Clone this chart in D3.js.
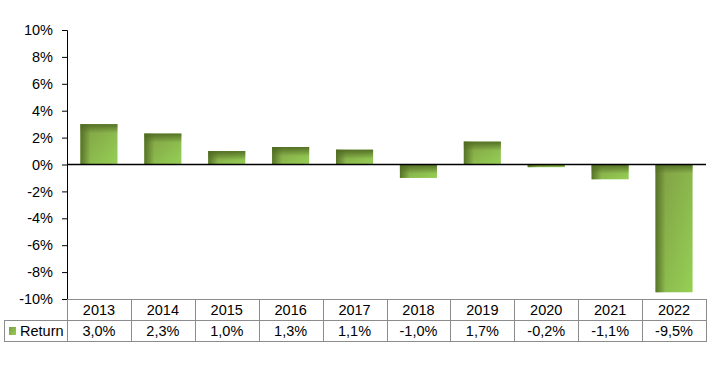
<!DOCTYPE html>
<html>
<head>
<meta charset="utf-8">
<script src="https://cdn.jsdelivr.net/npm/d3@7"></script>
<style>
  body { margin: 0; background: #fff; }
  text { font-family: "Liberation Sans", Arial, sans-serif; font-size: 14.5px; fill: #000; }
</style>
</head>
<body>
<svg id="chart" width="724" height="371"></svg>
<script>
// data
const years = ["2013", "2014", "2015", "2016", "2017", "2018", "2019", "2020", "2021", "2022"];
const returns = [3.0, 2.3, 1.0, 1.3, 1.1, -1.0, 1.7, -0.2, -1.1, -9.5];
const yTicks = [10, 8, 6, 4, 2, 0, -2, -4, -6, -8, -10];
const seriesName = "Return";

const svg = d3.select("#chart");
const plotL = 67, plotR = 706, plotT = 30, plotB = 299;
const rowH = 21;

const x = d3.scaleBand().domain(years).range([plotL, plotR]).paddingInner(0.42).paddingOuter(0.21);
const xCell = d3.scaleBand().domain(years).range([plotL, plotR]);
const y = d3.scaleLinear().domain([-10, 10]).range([plotB, plotT]);

const defs = svg.append("defs");
// main face: olive top-left to bright green bottom-right
const face = defs.append("linearGradient").attr("id", "face")
  .attr("x1", "0").attr("y1", "0").attr("x2", "1").attr("y2", "1");
face.append("stop").attr("offset", "0").attr("stop-color", "#7f9b43");
face.append("stop").attr("offset", "1").attr("stop-color", "#95d055");
const edgeL = defs.append("linearGradient").attr("id", "edgeL")
  .attr("x1", "0").attr("y1", "0").attr("x2", "1").attr("y2", "0");
edgeL.append("stop").attr("offset", "0").attr("stop-color", "#4f6a22").attr("stop-opacity", 0.85);
edgeL.append("stop").attr("offset", "1").attr("stop-color", "#4f6a22").attr("stop-opacity", 0);
const edgeT = defs.append("linearGradient").attr("id", "edgeT")
  .attr("x1", "0").attr("y1", "0").attr("x2", "0").attr("y2", "1");
edgeT.append("stop").attr("offset", "0").attr("stop-color", "#4f6a22").attr("stop-opacity", 0.9);
edgeT.append("stop").attr("offset", "1").attr("stop-color", "#4f6a22").attr("stop-opacity", 0);

// bars
const bars = svg.append("g").selectAll("g").data(years).join("g");
bars.each(function(d, i) {
  const g = d3.select(this);
  const v = returns[i];
  const bx = x(d), bw = x.bandwidth();
  const by = y(Math.max(0, v)), bh = Math.abs(y(v) - y(0));
  g.append("rect").attr("x", bx).attr("y", by).attr("width", bw).attr("height", bh).attr("fill", "url(#face)");
  g.append("rect").attr("x", bx).attr("y", by).attr("width", Math.min(10, bw)).attr("height", bh).attr("fill", "url(#edgeL)");
  g.append("rect").attr("x", bx).attr("y", by).attr("width", bw).attr("height", Math.min(9, bh)).attr("fill", "url(#edgeT)");
});

// y axis
const yAxis = svg.append("g").attr("transform", `translate(${plotL},0)`)
  .call(d3.axisLeft(y).tickValues(yTicks).tickSize(5).tickPadding(9).tickFormat(d => d + "%"));
yAxis.attr("font-size", null).attr("font-family", null);
yAxis.select(".domain").attr("stroke", "#000");
yAxis.selectAll(".tick line").attr("stroke", "#000");
yAxis.selectAll(".tick text").attr("fill", "#000");

// zero line
svg.append("line").attr("x1", plotL).attr("x2", plotR).attr("y1", y(0)).attr("y2", y(0))
  .attr("stroke", "#000").attr("stroke-width", 1.3);

// data table
const grid = "#8c8c8c";
const t = svg.append("g").attr("fill", "none").attr("stroke", grid).attr("stroke-width", 1);
t.append("line").attr("x1", plotL).attr("x2", plotR).attr("y1", plotB + 0.5).attr("y2", plotB + 0.5);
t.append("line").attr("x1", 4).attr("x2", plotR).attr("y1", plotB + rowH + 0.5).attr("y2", plotB + rowH + 0.5);
t.append("line").attr("x1", 4).attr("x2", plotR).attr("y1", plotB + 2 * rowH + 0.5).attr("y2", plotB + 2 * rowH + 0.5);
t.append("line").attr("x1", 4.5).attr("x2", 4.5).attr("y1", plotB + rowH).attr("y2", plotB + 2 * rowH + 1);
t.selectAll("line.v").data(years).join("line").attr("class", "v")
  .attr("x1", d => Math.round(xCell(d)) + 0.5).attr("x2", d => Math.round(xCell(d)) + 0.5)
  .attr("y1", plotB).attr("y2", plotB + 2 * rowH + 1);
t.append("line").attr("x1", plotR + 0.5).attr("x2", plotR + 0.5).attr("y1", plotB).attr("y2", plotB + 2 * rowH + 1);

// comma decimal, plain hyphen for minus
const fmt = v => (v < 0 ? "-" : "") + Math.abs(v).toFixed(1).replace(".", ",") + "%";
svg.append("g").selectAll("text").data(years).join("text")
  .attr("x", d => xCell(d) + xCell.bandwidth() / 2).attr("y", plotB + 16)
  .attr("text-anchor", "middle").text(d => d);
svg.append("g").selectAll("text").data(returns).join("text")
  .attr("x", (d, i) => xCell(years[i]) + xCell.bandwidth() / 2).attr("y", plotB + rowH + 16)
  .attr("text-anchor", "middle").text(fmt);

// legend key
svg.append("rect").attr("x", 9).attr("y", plotB + rowH + 7).attr("width", 7).attr("height", 8).attr("fill", "url(#face)");
svg.append("text").attr("x", 20).attr("y", plotB + rowH + 16).text(seriesName);
</script>
</body>
</html>
